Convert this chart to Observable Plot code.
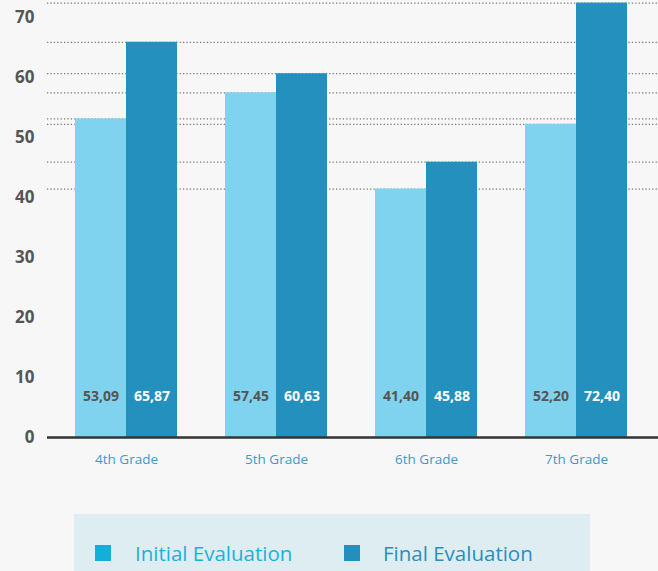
<!DOCTYPE html>
<html>
<head>
<meta charset="utf-8">
<script src="https://cdn.jsdelivr.net/npm/d3@7"></script>
<script src="https://cdn.jsdelivr.net/npm/@observablehq/plot@0.6"></script>
<style>
  html, body { margin:0; padding:0; background:#f7f7f7; width:658px; height:571px; overflow:hidden; font-family:"Open Sans", sans-serif; }
  #chart svg { display:block; }
  #legend { position:absolute; left:74px; top:514px; width:516px; height:70px; background:#deedf1; }
  .item { position:absolute; top:25px; font-size:20.5px; line-height:28px; white-space:nowrap; }
  .sw { position:absolute; top:6px; width:16px; height:16px; }
</style>
</head>
<body>
<div id="chart"></div>
<div id="legend">
  <span class="sw" style="left:21px;top:31px;background:#12b0d9"></span>
  <div class="item" style="left:61px;color:#1ab2dc">Initial Evaluation</div>
  <span class="sw" style="left:270px;top:31px;background:#248fbd"></span>
  <div class="item" style="left:309px;color:#2a8fbd">Final Evaluation</div>
</div>
<script>
const grades = ["4th Grade", "5th Grade", "6th Grade", "7th Grade"];
const initial = [53.09, 57.45, 41.40, 52.20];
const final = [65.87, 60.63, 45.88, 72.40];
const yTicks = [0, 10, 20, 30, 40, 50, 60, 70];

const rows = grades.map((g, i) => ({grade: g, initial: initial[i], final: final[i]}));
const gridValues = initial.concat(final);
const fmt = v => v.toFixed(2).replace(".", ",");

const plot = Plot.plot({
  width: 658,
  height: 480,
  marginTop: 17,
  marginBottom: 43,
  marginLeft: 47,
  marginRight: 0,
  style: {background: "transparent", fontFamily: "Open Sans, sans-serif", overflow: "visible"},
  x: {domain: grades, range: [51, 651], padding: 0, label: null},
  y: {domain: [0, 70], ticks: yTicks, label: null},
  marks: [
    Plot.ruleY(gridValues, {stroke: "#7a7a7a", strokeDasharray: "1.3,2.1", strokeWidth: 1.2}),
    Plot.barY(rows, {x: "grade", y: "initial", fill: "#7fd3ee", insetLeft: 24, insetRight: 75}),
    Plot.barY(rows, {x: "grade", y: "final", fill: "#2490bd", insetLeft: 75, insetRight: 24}),
    Plot.ruleY([0], {stroke: "#333", strokeWidth: 2.5}),
    Plot.axisY({ticks: yTicks, tickSize: 0, tickPadding: 13, fontSize: 17, fontWeight: "bold", fill: "#555", label: null}),
    Plot.axisX({tickSize: 0, tickPadding: 17, fontSize: 13.5, fill: "#3a9ac9", label: null}),
    Plot.text(rows, {x: "grade", text: d => fmt(d.initial), frameAnchor: "bottom", dy: -37, dx: -25.5, fill: "#555", fontWeight: "bold", fontSize: 14}),
    Plot.text(rows, {x: "grade", text: d => fmt(d.final), frameAnchor: "bottom", dy: -37, dx: 25.5, fill: "#fff", fontWeight: "bold", fontSize: 14})
  ]
});
document.getElementById("chart").appendChild(plot);
</script>
</body>
</html>
